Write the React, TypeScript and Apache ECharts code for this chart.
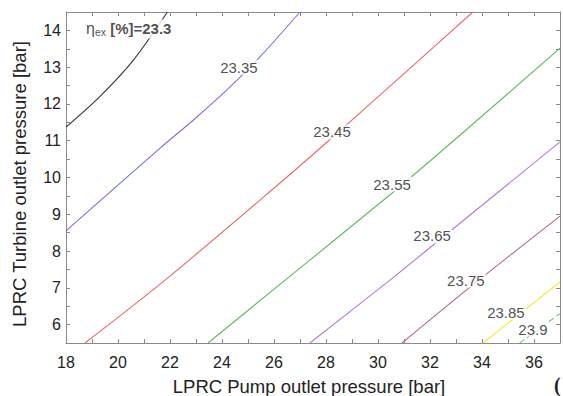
import React, { useEffect, useRef } from "react";
import * as echarts from "echarts";

// Contour levels (exergy efficiency %) and their iso-lines [pump bar, turbine bar]
const levelNames = ["23.3", "23.35", "23.45", "23.55", "23.65", "23.75", "23.85", "23.9"];
const c233 = [[18, 11.37], [19.3, 12.2], [20.6, 13.2], [21.9, 14.5]];
const c2335 = [[18, 8.55], [21.62, 10.8], [22.88, 11.55], [24.19, 12.38], [25.46, 13.28], [27.0, 14.5]];
const c2345 = [[18.73, 5.5], [21.88, 7.25], [26.23, 9.85], [28.23, 11.08], [31.12, 12.9], [33.65, 14.5]];
const c2355 = [[23.46, 5.5], [26.5, 7.25], [30.58, 9.6], [33.04, 11.08], [37, 13.52]];
const c2365 = [[27.38, 5.5], [30.46, 7.21], [32.88, 8.6], [37, 10.97]];
const c2375 = [[30.92, 5.5], [33.54, 7.02], [37, 8.95]];
const c2385 = [[34.04, 5.5], [37, 7.16]];
const c239 = [[35.45, 5.5], [37, 6.3]];
const contours = [c233, c2335, c2345, c2355, c2365, c2375, c2385, c239];

// Label anchor positions in data space
const labelPos = [
  [18.77, 14.04],
  [24.65, 13.0],
  [28.23, 11.24],
  [30.54, 9.82],
  [32.08, 8.41],
  [33.38, 7.21],
  [34.92, 6.34],
  [35.96, 5.88],
];

const xTicks = [18, 20, 22, 24, 26, 28, 30, 32, 34, 36];
const yTicks = [6, 7, 8, 9, 10, 11, 12, 13, 14];

const colors = ["#333333", "#7474dc", "#e66a6a", "#62b862", "#b57ad2", "#b06a72", "#eeee3c", "#6ed05e"];

export default function App() {
  const ref = useRef<HTMLDivElement>(null);
  useEffect(() => {
    if (!ref.current) return;
    const chart = echarts.init(ref.current, null, { renderer: "svg" });
    const font = "Liberation Sans";
    const axisCol = "#8a8a8a";
    const baseX = {
      type: "value",
      min: 18,
      max: 37,
      interval: 1,
      splitLine: { show: false },
      axisLine: { show: true, onZero: false, lineStyle: { color: axisCol, width: 1 } },
      axisTick: { show: true, inside: true, length: 4, lineStyle: { color: axisCol } },
    };
    const baseY = {
      type: "value",
      min: 5.5,
      max: 14.5,
      interval: 0.5,
      splitLine: { show: false },
      axisLine: { show: true, onZero: false, lineStyle: { color: axisCol, width: 1 } },
      axisTick: { show: true, inside: true, length: 4, lineStyle: { color: axisCol } },
    };
    const lineSeries = contours.map((d, i) => ({
      type: "line",
      data: d,
      showSymbol: false,
      symbol: "none",
      smooth: 0.3,
      z: 2,
      lineStyle: { color: colors[i], width: 1.1, type: i === 7 ? [6, 3] : "solid" },
    }));
    const labelData = labelPos.map((p, i) => {
      if (i === 0) {
        return {
          value: p,
          label: {
            show: true,
            position: "inside",
            align: "left",
            verticalAlign: "middle",
            formatter: "{eta|η}{sub|ex}{b| [%]=" + levelNames[0] + "}",
            backgroundColor: "#fff",
            padding: [1, 1, 1, 0],
            rich: {
              eta: { fontFamily: font, fontSize: 16, color: "#222", verticalAlign: "middle" },
              sub: { fontFamily: font, fontSize: 10.5, color: "#222", padding: [6, 0, 0, 0] },
              b: { fontFamily: font, fontSize: 15, fontWeight: "bold", color: "#222" },
            },
          },
        };
      }
      return {
        value: p,
        label: {
          show: true,
          position: "inside",
          align: "center",
          verticalAlign: "middle",
          formatter: levelNames[i],
          fontFamily: font,
          fontSize: 15,
          color: "#222",
          backgroundColor: "#fff",
          padding: [0, 1],
        },
      };
    });
    chart.setOption({
      animation: false,
      backgroundColor: "#fff",
      grid: { left: 66, right: 2, top: 12, bottom: 53, containLabel: false },
      xAxis: [
        {
          ...baseX,
          position: "bottom",
          axisLabel: {
            show: true,
            margin: 11,
            fontFamily: font,
            fontSize: 16,
            color: "#222",
            formatter: (v: number) => (xTicks.includes(v) ? String(v) : ""),
          },
        },
        { ...baseX, position: "top", axisLabel: { show: false } },
      ],
      yAxis: [
        {
          ...baseY,
          position: "left",
          axisLabel: {
            show: true,
            margin: 5,
            fontFamily: font,
            fontSize: 16,
            color: "#222",
            formatter: (v: number) => (yTicks.includes(v) ? String(v) : ""),
          },
        },
        { ...baseY, position: "right", axisLabel: { show: false } },
      ],
      series: [
        ...lineSeries,
        {
          type: "scatter",
          data: labelData,
          symbolSize: 0,
          z: 5,
          silent: true,
        },
      ],
      graphic: [
        {
          type: "text",
          x: 309,
          y: 386,
          style: {
            text: "LPRC Pump outlet pressure [bar]",
            fontFamily: font,
            fontSize: 18.5,
            fill: "#222",
            align: "center",
            verticalAlign: "middle",
          },
        },
        {
          type: "text",
          x: 19,
          y: 184,
          rotation: Math.PI / 2,
          style: {
            text: "LPRC Turbine outlet pressure [bar]",
            fontFamily: font,
            fontSize: 18.5,
            fill: "#222",
            align: "center",
            verticalAlign: "middle",
          },
        },
        {
          type: "text",
          x: 554,
          y: 385,
          style: {
            text: "(",
            fontFamily: "Liberation Serif",
            fontSize: 20,
            fontWeight: "bold",
            fill: "#222",
            align: "left",
            verticalAlign: "middle",
          },
        },
      ],
    });
    return () => chart.dispose();
  }, []);
  return <div ref={ref} style={{ width: 563, height: 396, position: "absolute", left: 0, top: 0 }} />;
}
